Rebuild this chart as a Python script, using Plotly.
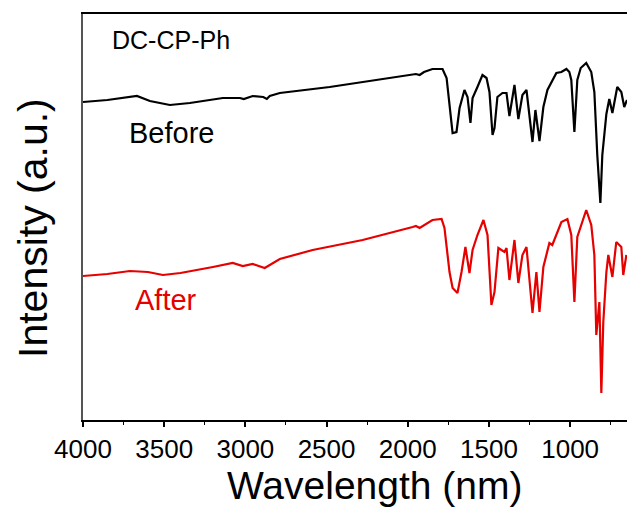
import plotly.graph_objects as go

# Wavenumber (x) and intensity (a.u.)
before_x = [4000, 3850, 3668, 3588, 3465, 3342, 3139, 3034, 3010, 2955, 2890, 2868, 2850, 2788,
            2481, 2235, 1970, 1950, 1927, 1900, 1848, 1786, 1761, 1743, 1724, 1700, 1681, 1651,
            1632, 1614, 1601, 1571, 1540, 1515, 1497, 1478, 1466, 1448, 1417, 1392, 1374, 1343,
            1319, 1294, 1269, 1232, 1214, 1189, 1165, 1140, 1110, 1085, 1054, 1023, 1005, 993,
            974, 956, 935, 901, 870, 851, 833, 814, 802, 777, 759, 740, 710, 685, 667, 650]
before_y = [318, 320, 324, 319, 315, 317, 322, 322, 321, 324, 323, 321, 324, 327,
            333, 339, 346, 346, 345, 348, 351, 351, 342, 312, 287, 288, 312, 330,
            323, 297, 322, 333, 345, 342, 328, 285, 292, 323, 327, 327, 304, 335,
            301, 325, 330, 278, 310, 279, 313, 330, 340, 347, 348, 351, 348, 340,
            288, 340, 352, 357, 348, 328, 265, 217, 265, 306, 321, 307, 333, 328, 313, 320]

after_x = [4000, 3850, 3711, 3600, 3508, 3400, 3200, 3078, 3016, 2955, 2881, 2788, 2586, 2278,
           1970, 1950, 1927, 1900, 1848, 1792, 1774, 1743, 1724, 1694, 1669, 1645, 1620, 1601,
           1571, 1534, 1509, 1485, 1466, 1442, 1405, 1392, 1374, 1343, 1319, 1294, 1269, 1232,
           1208, 1189, 1165, 1128, 1110, 1054, 1017, 993, 974, 956, 901, 870, 851, 839, 820,
           808, 796, 777, 765, 740, 716, 685, 673, 654]
after_y = [144, 146, 149, 148, 145, 147, 153, 157, 154, 156, 152, 161, 170, 180,
           193, 194, 192, 195, 200, 201, 192, 148, 132, 127, 148, 173, 147, 170,
           185, 200, 185, 115, 128, 172, 168, 172, 140, 180, 137, 165, 173, 107,
           148, 108, 153, 177, 175, 198, 201, 185, 118, 183, 210, 195, 165, 85, 118,
           27, 98, 148, 165, 143, 178, 173, 145, 165]

tick_vals = [4000, 3500, 3000, 2500, 2000, 1500, 1000]
tick_text = ["4000", "3500", "3000", "2500", "2000", "1500", "1000"]

FONT = "Liberation Sans, Arial, sans-serif"

fig = go.Figure()
fig.add_trace(go.Scatter(x=before_x, y=before_y, mode="lines",
                         line=dict(color="black", width=2.2), name="Before", showlegend=False))
fig.add_trace(go.Scatter(x=after_x, y=after_y, mode="lines",
                         line=dict(color="#e60000", width=2.2), name="After", showlegend=False))

fig.update_layout(
    width=627, height=507,
    margin=dict(l=83, r=0, t=14, b=87),
    paper_bgcolor="white", plot_bgcolor="white",
    font=dict(family=FONT, color="black"),
    xaxis=dict(range=[4000, 650], tickvals=tick_vals, ticktext=tick_text,
               ticks="outside", ticklen=5, tickwidth=1.5, tickcolor="black",
               minor=dict(dtick=250, ticks="outside", ticklen=3, tickwidth=1.2, tickcolor="black"),
               showline=True, linecolor="black", linewidth=1.5, mirror=True,
               showgrid=False, zeroline=False,
               tickfont=dict(size=26, family=FONT)),
    yaxis=dict(range=[0, 406], showticklabels=False, ticks="",
               showline=True, linecolor="#555555", linewidth=1.5,
               showgrid=False, zeroline=False),
    annotations=[
        dict(text="Wavelength (nm)", x=(375 - 83) / 544, y=(420 - 485) / 406, xref="paper", yref="paper",
             xanchor="center", yanchor="middle", showarrow=False, font=dict(size=39, color="black")),
        dict(text="Intensity (a.u.)", x=(33 - 83) / 544, y=(420 - 228) / 406, xref="paper", yref="paper",
             xanchor="center", yanchor="middle", textangle=-90, showarrow=False,
             font=dict(size=41, color="black")),
        dict(text="DC-CP-Ph", x=0.05, y=0.936, xref="paper", yref="paper",
             xanchor="left", yanchor="middle", showarrow=False, font=dict(size=25, color="black")),
        dict(text="Before", x=0.081, y=0.707, xref="paper", yref="paper",
             xanchor="left", yanchor="middle", showarrow=False, font=dict(size=29, color="black")),
        dict(text="After", x=0.092, y=0.296, xref="paper", yref="paper",
             xanchor="left", yanchor="middle", showarrow=False, font=dict(size=29, color="#e60000")),
    ],
)

fig.write_html("out.html")
